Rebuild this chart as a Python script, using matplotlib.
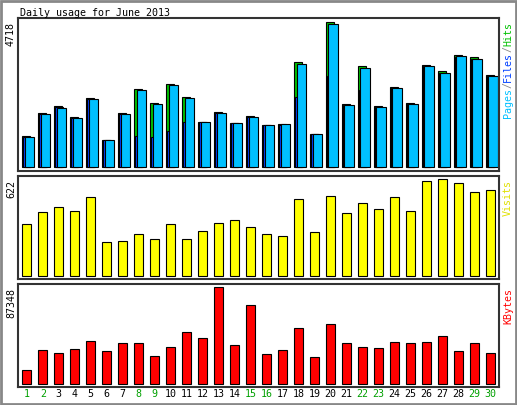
import matplotlib
matplotlib.use("Agg")
import matplotlib.pyplot as plt
import numpy as np

days = list(range(1, 31))
weekend = [1, 2, 8, 9, 15, 16, 22, 23, 29, 30]
hits = [987, 1735, 1985, 1605, 2245, 878, 1735, 2538, 2082, 2679,
        2278, 1464, 1790, 1432, 1659, 1367, 1399, 3395, 1074, 4718,
        2050, 3265, 1985, 2603, 2082, 3319, 3102, 3644, 3557, 2993]
files = [960, 1700, 1950, 1580, 2200, 860, 1700, 1000, 960, 1170,
         1450, 1440, 1760, 1410, 1630, 1340, 1370, 2260, 1050, 2960,
         2010, 2500, 1950, 2560, 2050, 3270, 3050, 3580, 3500, 2940]
pages = [965, 1700, 1920, 1570, 2200, 865, 1710, 2500, 2050, 2640,
         2245, 1440, 1760, 1410, 1630, 1345, 1375, 3350, 1055, 4650,
         2020, 3220, 1950, 2565, 2050, 3270, 3060, 3590, 3510, 2950]
visits = [334, 412, 445, 419, 504, 216, 223, 268, 236, 334,
          236, 288, 340, 360, 314, 268, 255, 491, 281, 511,
          406, 465, 432, 504, 419, 609, 622, 596, 537, 550]
kbytes = [12216, 30540, 27791, 31456, 38786, 29624, 36953, 36953, 25043, 33289,
          47032, 41534, 87348, 35121, 70853, 26875, 30540, 50696, 24127, 54361,
          36953, 33289, 32372, 37870, 36953, 37870, 43367, 29624, 36953, 27791]

W, H = 517, 405
fig = plt.figure(figsize=(W / 100, H / 100), dpi=100)
fig.patch.set_facecolor("white")
mono = "DejaVu Sans Mono"
fs = 7.2

def ax_at(x0, y0, x1, y1):
    a = fig.add_axes([x0 / W, 1 - y1 / H, (x1 - x0) / W, (y1 - y0) / H])
    a.set_xticks([]); a.set_yticks([])
    a.set_xlim(0.45, 30.55)
    for s in a.spines.values():
        s.set_linewidth(1.5)
        s.set_edgecolor("#333333")
    return a

# outer frame
fig.add_artist(plt.Rectangle((0.002, 0.002), 0.996, 0.996, transform=fig.transFigure,
                             fill=False, edgecolor="#888888", linewidth=2))
fig.text(20 / W, 1 - 13 / H, "Daily usage for June 2013", family=mono, fontsize=fs,
         va="center", ha="left")

x = np.array(days)

# top panel
ax1 = ax_at(18, 18, 499, 171)
ax1.bar(x - 0.28, hits, width=0.5, align="edge", color="#00c000", edgecolor="black", linewidth=0.8)
ax1.bar(x - 0.22, files, width=0.5, align="edge", color="#0040ff", edgecolor="black", linewidth=0.8)
ax1.bar(x - 0.12, pages, width=0.6, align="edge", color="#00c0ff", edgecolor="black", linewidth=0.8)
M = max(hits)
ax1.set_ylim(-0.03 * M, 1.025 * M)
fig.text(11 / W, 1 - 22 / H, str(M), rotation=90, family=mono, fontsize=fs, ha="center", va="top")
ytop = 22
for word, col in [("Hits", "#00c000"), ("/", "#888888"), ("Files", "#0040ff"),
                  ("/", "#888888"), ("Pages", "#00c0ff")]:
    fig.text(508 / W, 1 - ytop / H, word, rotation=90, family=mono, fontsize=fs,
             color=col, ha="center", va="top")
    ytop += 6 * len(word)

# middle panel
ax2 = ax_at(18, 176, 499, 279)
ax2.bar(x, visits, width=0.55, color="#ffff00", edgecolor="black", linewidth=0.8)
V = max(visits)
ax2.set_ylim(-0.03 * V, 1.03 * V)
fig.text(11 / W, 1 - 180 / H, str(V), rotation=90, family=mono, fontsize=fs, ha="center", va="top")
fig.text(508 / W, 1 - 180 / H, "Visits", rotation=90, family=mono, fontsize=fs,
         color="#e0e000", ha="center", va="top")

# bottom panel
ax3 = ax_at(18, 284, 499, 387)
ax3.bar(x, kbytes, width=0.55, color="#ff0000", edgecolor="black", linewidth=0.8)
K = max(kbytes)
ax3.set_ylim(-0.03 * K, 1.03 * K)
fig.text(11 / W, 1 - 288 / H, str(K), rotation=90, family=mono, fontsize=fs, ha="center", va="top")
fig.text(508 / W, 1 - 288 / H, "KBytes", rotation=90, family=mono, fontsize=fs,
         color="#ff0000", ha="center", va="top")

for d in days:
    xf = (18 + (d - 0.45) / 30.1 * 481) / W
    fig.text(xf, 1 - 394 / H, str(d), family=mono, fontsize=fs, ha="center", va="center",
             color="#00a000" if d in weekend else "black")

fig.savefig("out.png", dpi=100)
